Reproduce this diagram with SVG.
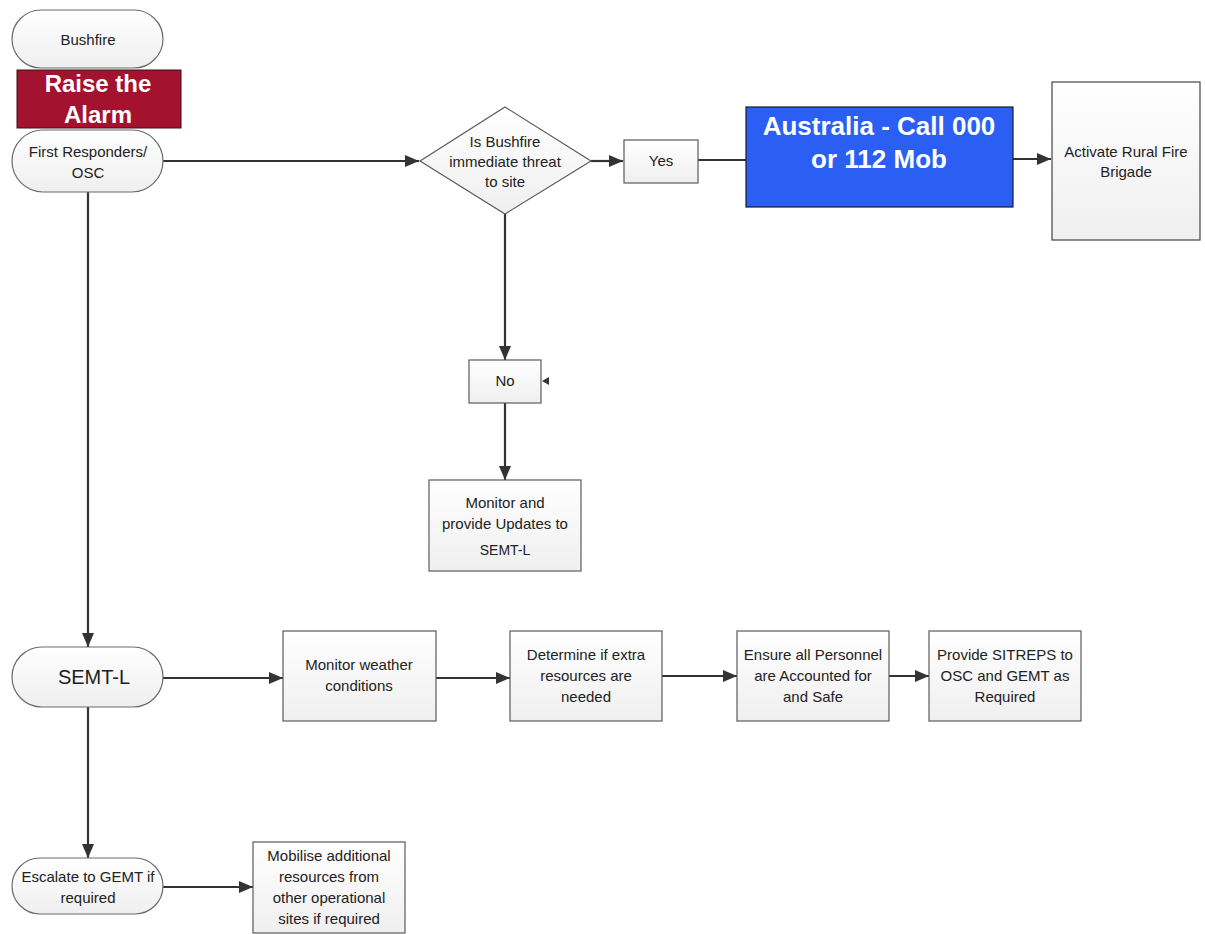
<svg xmlns="http://www.w3.org/2000/svg" width="1205" height="934" viewBox="0 0 1205 934">
  <style>
    .pill { fill: url(#boxFill); stroke: #6a6a6a; stroke-width: 1.2; }
    .box { fill: url(#boxFill); stroke: #5a5a5a; stroke-width: 1.2; }
    .txt { font-family: "Liberation Sans", Arial, sans-serif; font-size: 15px; fill: #222; text-anchor: middle; }
    .big { font-family: "Liberation Sans", Arial, sans-serif; font-weight: bold; fill: #fff; text-anchor: middle; }
    .conn { stroke: #333; stroke-width: 2.2; fill: none; }
  </style>
  <defs>
    <linearGradient id="boxFill" x1="0" y1="0" x2="0" y2="1">
      <stop offset="0" stop-color="#ffffff"/>
      <stop offset="1" stop-color="#efefef"/>
    </linearGradient>
    <marker id="arrow" viewBox="0 0 14 12" refX="14" refY="6" markerWidth="14" markerHeight="12" markerUnits="userSpaceOnUse" orient="auto">
      <path d="M0,0 L14,6 L0,12 Z" fill="#333"/>
    </marker>
  </defs>
  <rect width="1205" height="934" fill="#ffffff"/>

  <!-- connectors -->
  <g id="connectors">
    <line class="conn" x1="163" y1="161" x2="419" y2="161" marker-end="url(#arrow)"/>
    <line class="conn" x1="591" y1="161" x2="623" y2="161" marker-end="url(#arrow)"/>
    <line class="conn" x1="698" y1="160" x2="746" y2="160"/>
    <line class="conn" x1="1013" y1="159" x2="1051" y2="159" marker-end="url(#arrow)"/>
    <line class="conn" x1="505" y1="213" x2="505" y2="360" marker-end="url(#arrow)"/>
    <line class="conn" x1="505" y1="403" x2="505" y2="480" marker-end="url(#arrow)"/>
    <polygon points="542,381 549,377 549,385" fill="#333"/>
    <line class="conn" x1="88" y1="192" x2="88" y2="647" marker-end="url(#arrow)"/>
    <line class="conn" x1="163" y1="678" x2="283" y2="678" marker-end="url(#arrow)"/>
    <line class="conn" x1="436" y1="678" x2="510" y2="678" marker-end="url(#arrow)"/>
    <line class="conn" x1="662" y1="676" x2="737" y2="676" marker-end="url(#arrow)"/>
    <line class="conn" x1="889" y1="676" x2="929" y2="676" marker-end="url(#arrow)"/>
    <line class="conn" x1="88" y1="707" x2="88" y2="858" marker-end="url(#arrow)"/>
    <line class="conn" x1="163" y1="887" x2="253" y2="887" marker-end="url(#arrow)"/>
  </g>

  <g id="bushfire">
    <rect class="pill" x="12" y="10" width="151" height="58" rx="29"/>
    <text class="txt" x="88" y="45">Bushfire</text>
  </g>

  <g id="raise-alarm">
    <rect x="17" y="70" width="164" height="58" fill="#a3122f" stroke="#3a1018" stroke-width="1"/>
    <text class="big" x="98" y="92" style="font-size:24px">Raise the</text>
    <text class="big" x="98" y="123" style="font-size:24px">Alarm</text>
  </g>

  <g id="first-responders">
    <rect class="pill" x="12" y="130" width="151" height="62" rx="31"/>
    <text class="txt" x="88" y="157">First Responders/</text>
    <text class="txt" x="88" y="178">OSC</text>
  </g>

  <g id="threat-decision">
    <polygon class="box" points="505,107 591,161 505,214 420,161"/>
    <text class="txt" x="505" y="147">Is Bushfire</text>
    <text class="txt" x="505" y="167">immediate threat</text>
    <text class="txt" x="505" y="187">to site</text>
  </g>

  <g id="yes">
    <rect class="box" x="624" y="140" width="74" height="43"/>
    <text class="txt" x="661" y="166">Yes</text>
  </g>

  <g id="call-000">
    <rect x="746" y="107" width="267" height="100" fill="#2b5ef2" stroke="#1a1a2a" stroke-width="1.2"/>
    <text class="big" x="879" y="135" style="font-size:26px">Australia - Call 000</text>
    <text class="big" x="879" y="168" style="font-size:26px">or 112 Mob</text>
  </g>

  <g id="rural-fire-brigade">
    <rect class="box" x="1052" y="82" width="148" height="158" style="stroke:#444"/>
    <text class="txt" x="1126" y="157">Activate Rural Fire</text>
    <text class="txt" x="1126" y="177">Brigade</text>
  </g>

  <g id="no">
    <rect class="box" x="469" y="360" width="72" height="43"/>
    <text class="txt" x="505" y="386">No</text>
  </g>

  <g id="monitor-updates">
    <rect class="box" x="429" y="480" width="152" height="91"/>
    <text class="txt" x="505" y="508">Monitor and</text>
    <text class="txt" x="505" y="529">provide Updates to</text>
    <text class="txt" x="505" y="555" style="font-size:14px">SEMT-L</text>
  </g>

  <g id="semt-l">
    <rect class="pill" x="12" y="647" width="151" height="60" rx="30"/>
    <text class="txt" x="94" y="684" style="font-size:20px">SEMT-L</text>
  </g>

  <g id="monitor-weather">
    <rect class="box" x="283" y="631" width="153" height="90"/>
    <text class="txt" x="359" y="670">Monitor weather</text>
    <text class="txt" x="359" y="691">conditions</text>
  </g>

  <g id="extra-resources">
    <rect class="box" x="510" y="631" width="152" height="90"/>
    <text class="txt" x="586" y="660">Determine if extra</text>
    <text class="txt" x="586" y="681">resources are</text>
    <text class="txt" x="586" y="702">needed</text>
  </g>

  <g id="personnel-safe">
    <rect class="box" x="737" y="631" width="152" height="90"/>
    <text class="txt" x="813" y="660">Ensure all Personnel</text>
    <text class="txt" x="813" y="681">are Accounted for</text>
    <text class="txt" x="813" y="702">and Safe</text>
  </g>

  <g id="sitreps">
    <rect class="box" x="929" y="631" width="152" height="90"/>
    <text class="txt" x="1005" y="660">Provide SITREPS to</text>
    <text class="txt" x="1005" y="681">OSC and GEMT as</text>
    <text class="txt" x="1005" y="702">Required</text>
  </g>

  <g id="escalate-gemt">
    <rect class="pill" x="12" y="858" width="151" height="56" rx="28"/>
    <text class="txt" x="88" y="882">Escalate to GEMT if</text>
    <text class="txt" x="88" y="903">required</text>
  </g>

  <g id="mobilise-resources">
    <rect class="box" x="253" y="842" width="152" height="91"/>
    <text class="txt" x="329" y="861">Mobilise additional</text>
    <text class="txt" x="329" y="882">resources from</text>
    <text class="txt" x="329" y="903">other operational</text>
    <text class="txt" x="329" y="924">sites if required</text>
  </g>
</svg>
